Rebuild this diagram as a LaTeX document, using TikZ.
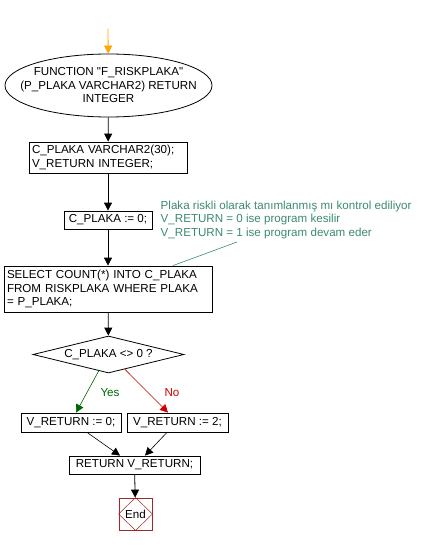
\documentclass[tikz,border=0pt]{standalone}
\usepackage{fontspec}
\setmainfont{Liberation Sans}
\usetikzlibrary{arrows.meta,shapes.geometric,calc}
\definecolor{notegreen}{RGB}{60,138,110}
\definecolor{yesgreen}{RGB}{0,102,0}
\definecolor{nored}{RGB}{204,0,0}
\definecolor{endred}{RGB}{160,40,40}
\definecolor{startorange}{RGB}{255,165,0}
\begin{document}
\begin{tikzpicture}[x=1pt,y=-1pt,>={Triangle[length=8pt,width=8pt]},
  every node/.style={font=\fontsize{11.6}{13.5}\selectfont,inner sep=0pt},
  stepbox/.style={draw,line width=0.8pt,minimum height=#1},
  stepbox/.default=18pt,
  flow/.style={->,line width=0.8pt}]
\useasboundingbox (0,0) rectangle (442,545);

\coordinate (start) at (108,29);
\node[ellipse,draw,line width=0.8pt,minimum width=207pt,minimum height=63pt,
  inner xsep=-20pt,inner ysep=-6pt,align=center]
  (func) at (108.5,85.5) {FUNCTION \textquotedbl F\_RISKPLAKA\textquotedbl\\(P\_PLAKA VARCHAR2) RETURN\\INTEGER};
\node[stepbox=31pt,text width=152pt,inner xsep=3pt,align=left]
  (decl) at (108,157.5) {C\_PLAKA VARCHAR2(30);\\V\_RETURN INTEGER;};
\node[stepbox,minimum width=88pt] (init) at (108,220) {C\_PLAKA := 0;};
\node[stepbox=46pt,text width=202pt,inner xsep=3pt,align=left]
  (select) at (108,289) {SELECT COUNT(*) INTO C\_PLAKA\\FROM RISKPLAKA WHERE PLAKA\\= P\_PLAKA;};
\node[diamond,draw,line width=0.8pt,aspect=4,minimum width=151pt,minimum height=37pt]
  (test) at (108.5,354.5) {C\_PLAKA <> 0 ?};
\node[stepbox=19pt,minimum width=100pt] (yes) at (71,422.5) {V\_RETURN := 0;};
\node[stepbox=19pt,minimum width=101pt] (no) at (177.5,422.5) {V\_RETURN := 2;};
\node[stepbox,minimum width=131pt] (ret) at (134.5,465) {RETURN V\_RETURN;};
\node[draw=endred,line width=0.8pt,minimum width=33pt,minimum height=32pt]
  (end) at (135.5,514) {End};
\draw[endred,line width=0.5pt] (end.north) -- (end.east) -- (end.south) -- (end.west) -- cycle;

% comment
\node[text=notegreen,anchor=west,align=left] (note) at (160.5,220)
  {Plaka riskli olarak tanımlanmış mı kontrol ediliyor\\V\_RETURN = 0 ise program kesilir\\V\_RETURN = 1 ise program devam eder};
\coordinate (notetip) at (237,242);
\draw[notegreen,line width=0.6pt] (notetip) -- ([xshift=65pt]select.north);

\draw[->,line width=0.8pt,startorange] (start) -- (func);
\draw[flow] (func) -- (decl);
\draw[flow] (decl) -- (init);
\draw[flow] (init) -- (select);
\draw[flow] (select) -- (test);

\coordinate (yeslabel) at (110,393);
\coordinate (nolabel) at (172,393);
\draw[->,yesgreen,line width=0.6pt] ($(test.south)+(-9.5,-3)$) -- ([xshift=5pt]yes.north);
\node[text=yesgreen] (yestext) at (yeslabel) {Yes};
\draw[->,nored,line width=0.6pt] ($(test.south)+(16.5,-4)$) -- ([xshift=-9.5pt]no.north);
\node[text=nored] (notext) at (nolabel) {No};

\draw[->,line width=0.6pt] ([xshift=16pt]yes.south) -- ([xshift=-14.5pt]ret.north);
\draw[->,line width=0.6pt] ([xshift=-10.5pt]no.south) -- ([xshift=10.5pt]ret.north);
\draw[flow] (ret) -- (end);
\end{tikzpicture}
\end{document}
